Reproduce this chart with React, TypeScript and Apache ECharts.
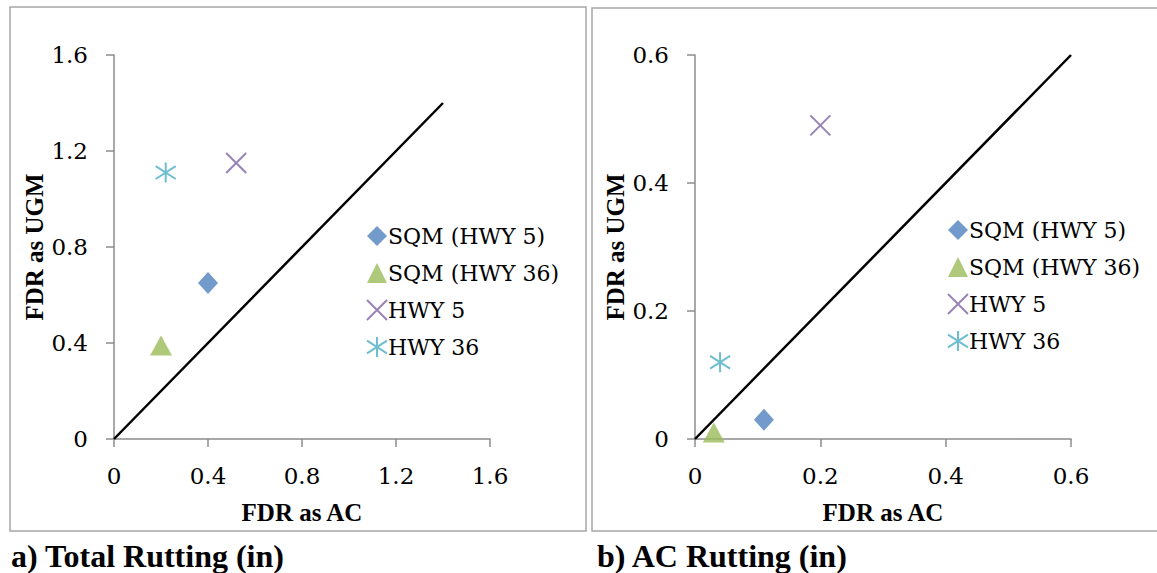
import React, { useEffect, useRef } from "react";
import * as echarts from "echarts";

// ---- Data ----
const seriesNames = ["SQM (HWY 5)", "SQM (HWY 36)", "HWY 5", "HWY 36"];
const totalRuttingAC = [0.4, 0.2, 0.52, 0.22];
const totalRuttingUGM = [0.65, 0.39, 1.15, 1.11];
const acRuttingAC = [0.11, 0.03, 0.2, 0.04];
const acRuttingUGM = [0.03, 0.01, 0.49, 0.12];
const equalityLineTotal = [0, 1.4];
const equalityLineAC = [0, 0.6];
const axisTotal = { min: 0, max: 1.6, interval: 0.4 };
const axisAC = { min: 0, max: 0.6, interval: 0.2 };
const captions = ["a) Total Rutting (in)", "b) AC Rutting (in)"];
const xTitle = "FDR as AC";
const yTitle = "FDR as UGM";

// ---- Styles ----
const colors = ["#4F81BD", "#9BBB59", "#8064A2", "#4BACC6"];
const symbols = [
  "diamond",
  "triangle",
  "path://M0,0L10,10M10,0L0,10",
  "path://M5,0L5,10M0,1.8L10,8.2M10,1.8L0,8.2",
];
const symbolSizes: any[] = [[20, 22], [22, 20], 20, 20];
const serif = "'DejaVu Serif', serif";
const boldSerif = "'Liberation Serif', 'Times New Roman', serif";
const axisGray = "#8c8c8c";

function makeAxis(gridIndex: number, range: any, isX: boolean) {
  return {
    type: "value",
    gridIndex,
    min: range.min,
    max: range.max,
    interval: range.interval,
    name: isX ? xTitle : yTitle,
    nameLocation: "middle",
    nameGap: isX ? 61 : 67,
    nameTextStyle: {
      fontFamily: boldSerif,
      fontWeight: "bold",
      fontSize: 25,
      color: "#000",
    },
    axisLine: { show: true, onZero: false, lineStyle: { color: axisGray, width: 1.5 } },
    axisTick: { show: true, inside: false, length: 8, lineStyle: { color: axisGray, width: 1.5 } },
    splitLine: { show: false },
    axisLabel: {
      fontFamily: serif,
      fontSize: 23,
      color: "#000",
      margin: isX ? 25 : 26,
    },
  };
}

function scatterSeries(idx: number, xs: number[], ys: number[], i: number) {
  const isStroke = i >= 2;
  return {
    type: "scatter",
    name: seriesNames[i],
    xAxisIndex: idx,
    yAxisIndex: idx,
    symbol: symbols[i],
    symbolSize: symbolSizes[i],
    data: [[xs[i], ys[i]]],
    itemStyle: isStroke
      ? { color: "rgba(0,0,0,0)", borderColor: colors[i], borderWidth: 2 }
      : { color: colors[i] },
    emphasis: { disabled: true },
  };
}

function lineSeries(idx: number, pts: number[]) {
  return {
    type: "line",
    name: "equality",
    xAxisIndex: idx,
    yAxisIndex: idx,
    data: [[pts[0], pts[0]], [pts[1], pts[1]]],
    showSymbol: false,
    symbol: "none",
    lineStyle: { color: "#000", width: 2.5 },
    z: 3,
  };
}

function makeLegend(left: number, top: number) {
  return {
    orient: "vertical",
    left,
    top,
    itemWidth: 20,
    itemHeight: 20,
    itemGap: 13,
    data: seriesNames,
    selectedMode: false,
    textStyle: {
      fontFamily: serif,
      fontSize: 22,
      color: "#000",
      lineHeight: 24,
      padding: [0, 0, 0, -4],
    },
  };
}

export default function App() {
  const ref = useRef<HTMLDivElement>(null);
  useEffect(() => {
    if (!ref.current) return;
    const chart = echarts.init(ref.current, undefined, { renderer: "svg" });
    const series: any[] = [];
    for (let i = 0; i < seriesNames.length; i++) {
      series.push(scatterSeries(0, totalRuttingAC, totalRuttingUGM, i));
    }
    for (let i = 0; i < seriesNames.length; i++) {
      series.push(scatterSeries(1, acRuttingAC, acRuttingUGM, i));
    }
    series.push(lineSeries(0, equalityLineTotal));
    series.push(lineSeries(1, equalityLineAC));

    chart.setOption({
      animation: false,
      backgroundColor: "#fff",
      grid: [
        { left: 114, top: 55, width: 376, height: 384 },
        { left: 695, top: 55, width: 376, height: 384 },
      ],
      xAxis: [makeAxis(0, axisTotal, true), makeAxis(1, axisAC, true)],
      yAxis: [makeAxis(0, axisTotal, false), makeAxis(1, axisAC, false)],
      legend: [makeLegend(361, 219), makeLegend(942, 213)],
      series,
      graphic: [
        {
          type: "rect",
          shape: { x: 10, y: 7, width: 576, height: 524 },
          style: { fill: "none", stroke: "#a6a6a6", lineWidth: 1.5 },
          silent: true,
          z: -1,
        },
        {
          type: "rect",
          shape: { x: 592, y: 8, width: 580, height: 523 },
          style: { fill: "none", stroke: "#a6a6a6", lineWidth: 1.5 },
          silent: true,
          z: -1,
        },
        {
          type: "text",
          x: 11,
          y: 556,
          style: {
            text: captions[0],
            font: `bold 32px ${boldSerif}`,
            fill: "#000",
            verticalAlign: "middle",
          },
        },
        {
          type: "text",
          x: 597,
          y: 556,
          style: {
            text: captions[1],
            font: `bold 32px ${boldSerif}`,
            fill: "#000",
            verticalAlign: "middle",
          },
        },
      ],
    });
    return () => chart.dispose();
  }, []);
  return (
    <div
      ref={ref}
      style={{ position: "absolute", left: 0, top: 0, width: 1157, height: 573 }}
    />
  );
}
